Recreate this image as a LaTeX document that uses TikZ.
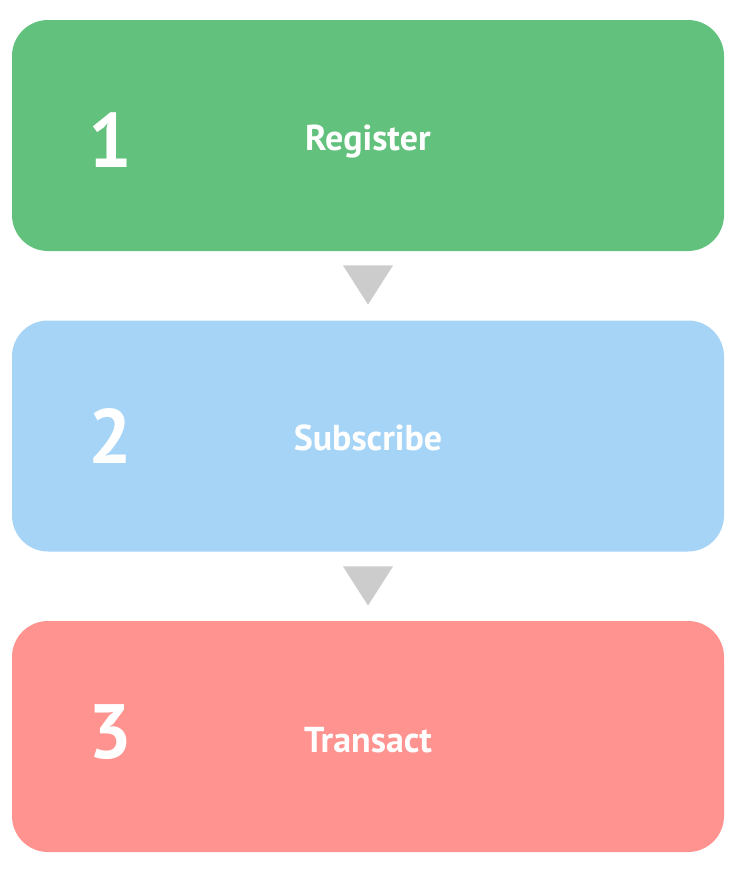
\documentclass[tikz,border=0pt]{standalone}
\usepackage{fontspec}
\setmainfont{PT Sans}
\definecolor{cgreen}{HTML}{62C17C}
\definecolor{cblue}{HTML}{A6D4F7}
\definecolor{cred}{HTML}{FF9390}
\definecolor{cgray}{HTML}{CCCCCC}
\usetikzlibrary{shapes.geometric}
\tikzset{
  stepbox/.style={fill=#1, draw=none, rounded corners=36pt, minimum width=712pt, minimum height=231pt, inner sep=0pt},
  numlabel/.style={text=white, font=\bfseries\fontsize{77}{77}\selectfont, inner sep=0pt, anchor=base},
  steplabel/.style={text=white, font=\bfseries\fontsize{36}{36}\selectfont, inner sep=0pt, anchor=base},
  tri/.style={fill=cgray, draw=none, isosceles triangle, isosceles triangle apex angle=65, shape border rotate=-90, minimum width=50pt, minimum height=39pt, inner sep=0pt, anchor=apex}
}
\begin{document}
\begin{tikzpicture}[x=1pt,y=-1pt]
\useasboundingbox (0,0) rectangle (736,871);
\node[stepbox=cgreen] (b1) at (368,135.5) {};
\node[stepbox=cblue] (b2) at (368,436) {};
\node[stepbox=cred] (b3) at (368,736.5) {};
\node[numlabel] (n1) at (110,167) {1};
\node[numlabel] (n2) at (110,463) {2};
\node[numlabel] (n3) at (110,758) {3};
\node[steplabel] (t1) at (368,150) {Register};
\node[steplabel] (t2) at (368,450) {Subscribe};
\node[steplabel] (t3) at (368,752) {Transact};
\node[tri] (a1) at (368,305) {};
\node[tri] (a2) at (368,606) {};
\end{tikzpicture}
\end{document}
